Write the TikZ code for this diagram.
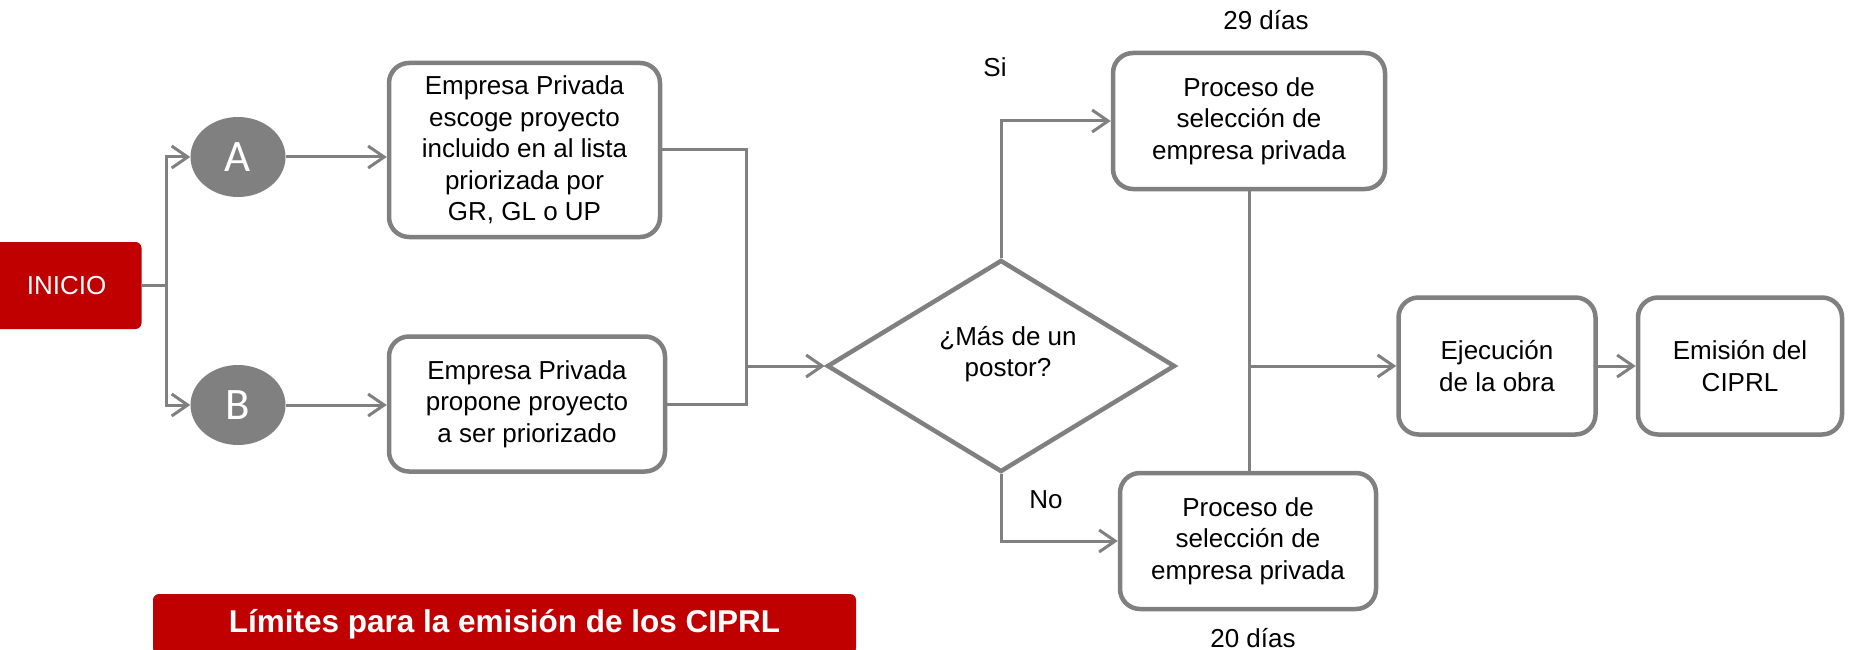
\documentclass[tikz,border=0pt]{standalone}
\usepackage{fontspec}
\setmainfont{Liberation Sans}
\newfontfamily\letterfont{Carlito}
\usetikzlibrary{shapes.geometric,arrows.meta}
\definecolor{linegray}{RGB}{128,128,128}
\definecolor{darkred}{RGB}{192,0,0}

\begin{document}
\begin{tikzpicture}[x=1pt, y=-1pt,
  every node/.style={font=\fontsize{26}{31.5}\selectfont},
  stepnode/.style={draw=linegray, line width=4.5pt, rounded corners=20pt, fill=white, align=center, inner sep=0pt},
  letter/.style={ellipse, fill=linegray, minimum width=95pt, minimum height=80pt, inner sep=0pt, text=white, font=\letterfont\fontsize{45}{45}\selectfont},
  redbox/.style={fill=darkred, text=white, rounded corners=6pt, inner sep=0pt, align=center},
  line/.style={draw=linegray, line width=3pt},
  arrow/.style={line, -{Straight Barb[length=16pt, width=22pt]}}]

\useasboundingbox (0,0) rectangle (1850,650);

\node[redbox, minimum width=150pt, minimum height=87pt] (inicio) at (66.5,285.5) {INICIO};

\node[letter] (A) at (238,157) {A};
\node[letter] (B) at (238,405) {B};

\node[stepnode, minimum width=271pt, minimum height=174pt] (pick) at (524.5,150)
  {Empresa Privada\\escoge proyecto\\incluido en al lista\\priorizada por\\GR, GL o UP};
\node[stepnode, minimum width=276pt, minimum height=135pt] (propose) at (527,404)
  {Empresa Privada\\propone proyecto\\a ser priorizado};

\node[diamond, draw=linegray, line width=4.5pt, minimum width=348pt, minimum height=212pt, inner sep=0pt,
  label={[name=asktext, align=center, xshift=7pt, yshift=12pt]center:¿Más de un\\postor?}] (ask) at (1001,366) {};

\node[stepnode, minimum width=272pt, minimum height=136pt] (sel1) at (1249,121)
  {Proceso de\\selección de\\empresa privada};
\node[stepnode, minimum width=256pt, minimum height=136pt] (sel2) at (1248,541)
  {Proceso de\\selección de\\empresa privada};

\node[stepnode, minimum width=197pt, minimum height=137pt] (exec) at (1497,366) {Ejecución\\de la obra};
\node[stepnode, minimum width=204pt, minimum height=137pt] (emit) at (1740,366) {Emisión del\\CIPRL};

\node (days29) at (1266,20) {29 días};
\node (yes) at (995,67) {Si};
\node (no) at (1046,500) {No};
\node (days20) at (1253,638) {20 días};

\node[redbox, minimum width=703pt, minimum height=60pt, font=\bfseries\fontsize{31.5}{31.5}\selectfont] (limits) at (504.5,624)
  {Límites para la emisión de los CIPRL};


\coordinate (split) at (166,285.5);
\path[line] (inicio.east) -- (split);
\path[arrow] (split) |- (A);
\path[arrow] (split) |- (B);

\path[arrow] (A.east) -- (A.east -| pick.west);
\path[arrow] (B.east) -- (B.east -| propose.west);

\coordinate (merge) at (746,366);
\path[line] (pick.east) -| (merge);
\path[line] (propose.east) -| (merge);
\path[arrow] (merge) -- (ask);

\path[arrow] (ask.north) |- (sel1);
\path[arrow] (ask.south) |- (sel2);

\path[line] (sel1.south) -- (sel1.south |- sel2.north);
\coordinate (join) at (sel1.south |- ask);
\path[arrow] (join) -- (exec);
\path[arrow] (exec) -- (emit);

\end{tikzpicture}
\end{document}
